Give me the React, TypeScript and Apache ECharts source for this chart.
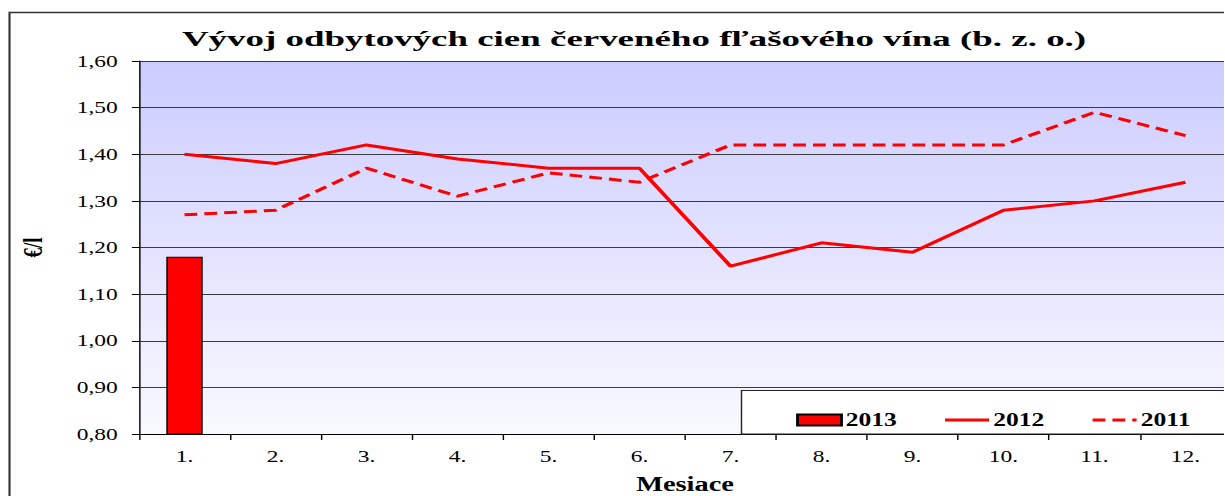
import React, { useEffect, useRef } from "react";
import * as echarts from "echarts";

const months = ["1.", "2.", "3.", "4.", "5.", "6.", "7.", "8.", "9.", "10.", "11.", "12."];
const s2013 = [1.18, null, null, null, null, null, null, null, null, null, null, null];
const s2012 = [1.4, 1.38, 1.42, 1.39, 1.37, 1.37, 1.16, 1.21, 1.19, 1.28, 1.3, 1.34];
const s2011 = [1.27, 1.28, 1.37, 1.31, 1.36, 1.34, 1.42, 1.42, 1.42, 1.42, 1.49, 1.44];
const titleText = "Vývoj odbytových cien červeného fľašového vína (b. z. o.)";

const SERIF = "'Liberation Serif', 'Times New Roman', serif";
// The reference picture is horizontally stretched; draw at a narrower width and stretch.
const SX = 1.42;
const W = Math.floor(1225 / SX);
const px = (v: number) => v / SX;

export default function App() {
  const ref = useRef<HTMLDivElement>(null);
  useEffect(() => {
    if (!ref.current) return;
    document.body.style.overflow = "hidden";
    const chart = echarts.init(ref.current, null, { renderer: "svg" });
    chart.setOption({
      animation: false,
      textStyle: { fontFamily: SERIF },
      grid: {
        left: px(139),
        top: 61,
        width: px(1092),
        height: 373,
        outerBoundsMode: "none",
        containLabel: false,
        show: true,
        borderWidth: 0,
        backgroundColor: new echarts.graphic.LinearGradient(0, 0, 0, 1, [
          { offset: 0, color: "#CCCCFF" },
          { offset: 1, color: "#F9F9FF" },
        ]),
      },
      graphic: [
        {
          type: "rect",
          z: 0,
          silent: true,
          shape: { x: px(9.5), y: 12.5, width: 1000, height: 600 },
          style: { fill: "none", stroke: "#333", lineWidth: 1.5 },
        },
        {
          type: "text",
          z: 10,
          silent: true,
          x: px(634),
          y: 39,
          scaleX: 1.3,
          style: {
            text: titleText,
            fontFamily: SERIF,
            fontSize: 20,
            fontWeight: "bold",
            fill: "#000",
            textAlign: "center",
            textVerticalAlign: "middle",
          },
        },
        {
          type: "rect",
          z: 50,
          silent: true,
          shape: { x: px(741.5), y: 390.5, width: 600, height: 43.5 },
          style: { fill: "#fff", stroke: "#222", lineWidth: 1 },
        },
      ],
      legend: {
        z: 60,
        left: px(789),
        top: 406,
        itemWidth: px(44),
        itemHeight: 11,
        itemGap: px(46),
        lineStyle: { width: 3 },
        textStyle: { fontFamily: SERIF, fontSize: 18, fontWeight: "bold", color: "#000", padding: [0, 0, 0, -2] },
        data: [
          { name: "2013", icon: "rect" },
          { name: "2012", itemStyle: { opacity: 0 } },
          { name: "2011", itemStyle: { opacity: 0 } },
        ],
      },
      xAxis: {
        type: "category",
        data: months,
        boundaryGap: true,
        axisLine: { lineStyle: { color: "#000", width: 1 } },
        axisTick: { show: true, length: 6, alignWithLabel: false, lineStyle: { color: "#000" } },
        axisLabel: { fontFamily: SERIF, fontSize: 16.5, color: "#000", margin: 14 },
        name: "Mesiace",
        nameLocation: "middle",
        nameGap: 40,
        nameTextStyle: { fontFamily: SERIF, fontSize: 20, fontWeight: "bold", color: "#000" },
      },
      yAxis: {
        type: "value",
        min: 0.8,
        max: 1.6,
        interval: 0.1,
        axisLine: { show: true, lineStyle: { color: "#000", width: 1 } },
        axisTick: { show: true, length: 5, lineStyle: { color: "#000" } },
        axisLabel: {
          fontFamily: SERIF,
          fontSize: 16.5,
          color: "#000",
          margin: 15,
          formatter: (v: number) => v.toFixed(2).replace(".", ","),
        },
        splitLine: { show: true, lineStyle: { color: "#3a3a3a", width: 1 } },
        name: "€/l",
        nameLocation: "middle",
        nameRotate: 90,
        nameGap: 65,
        nameTextStyle: { fontFamily: SERIF, fontSize: 19, fontWeight: "bold", color: "#000" },
      },
      series: [
        {
          name: "2013",
          type: "bar",
          data: s2013,
          barWidth: "40%",
          z: 3,
          itemStyle: { color: "#FF0000", borderColor: "#000", borderWidth: 1 },
        },
        {
          name: "2012",
          type: "line",
          data: s2012,
          symbol: "none",
          z: 4,
          itemStyle: { color: "#FF0000" },
          lineStyle: { color: "#FF0000", width: 3 },
        },
        {
          name: "2011",
          type: "line",
          data: s2011,
          symbol: "none",
          z: 4,
          itemStyle: { color: "#FF0000" },
          lineStyle: { color: "#FF0000", width: 3, type: [9, 5] },
        },
      ],
    });
    return () => chart.dispose();
  }, []);
  return (
    <div
      ref={ref}
      style={{
        position: "absolute",
        left: 0,
        top: 0,
        width: W,
        height: 496,
        background: "#fff",
        transform: `scaleX(${SX})`,
        transformOrigin: "0 0",
      }}
    />
  );
}
